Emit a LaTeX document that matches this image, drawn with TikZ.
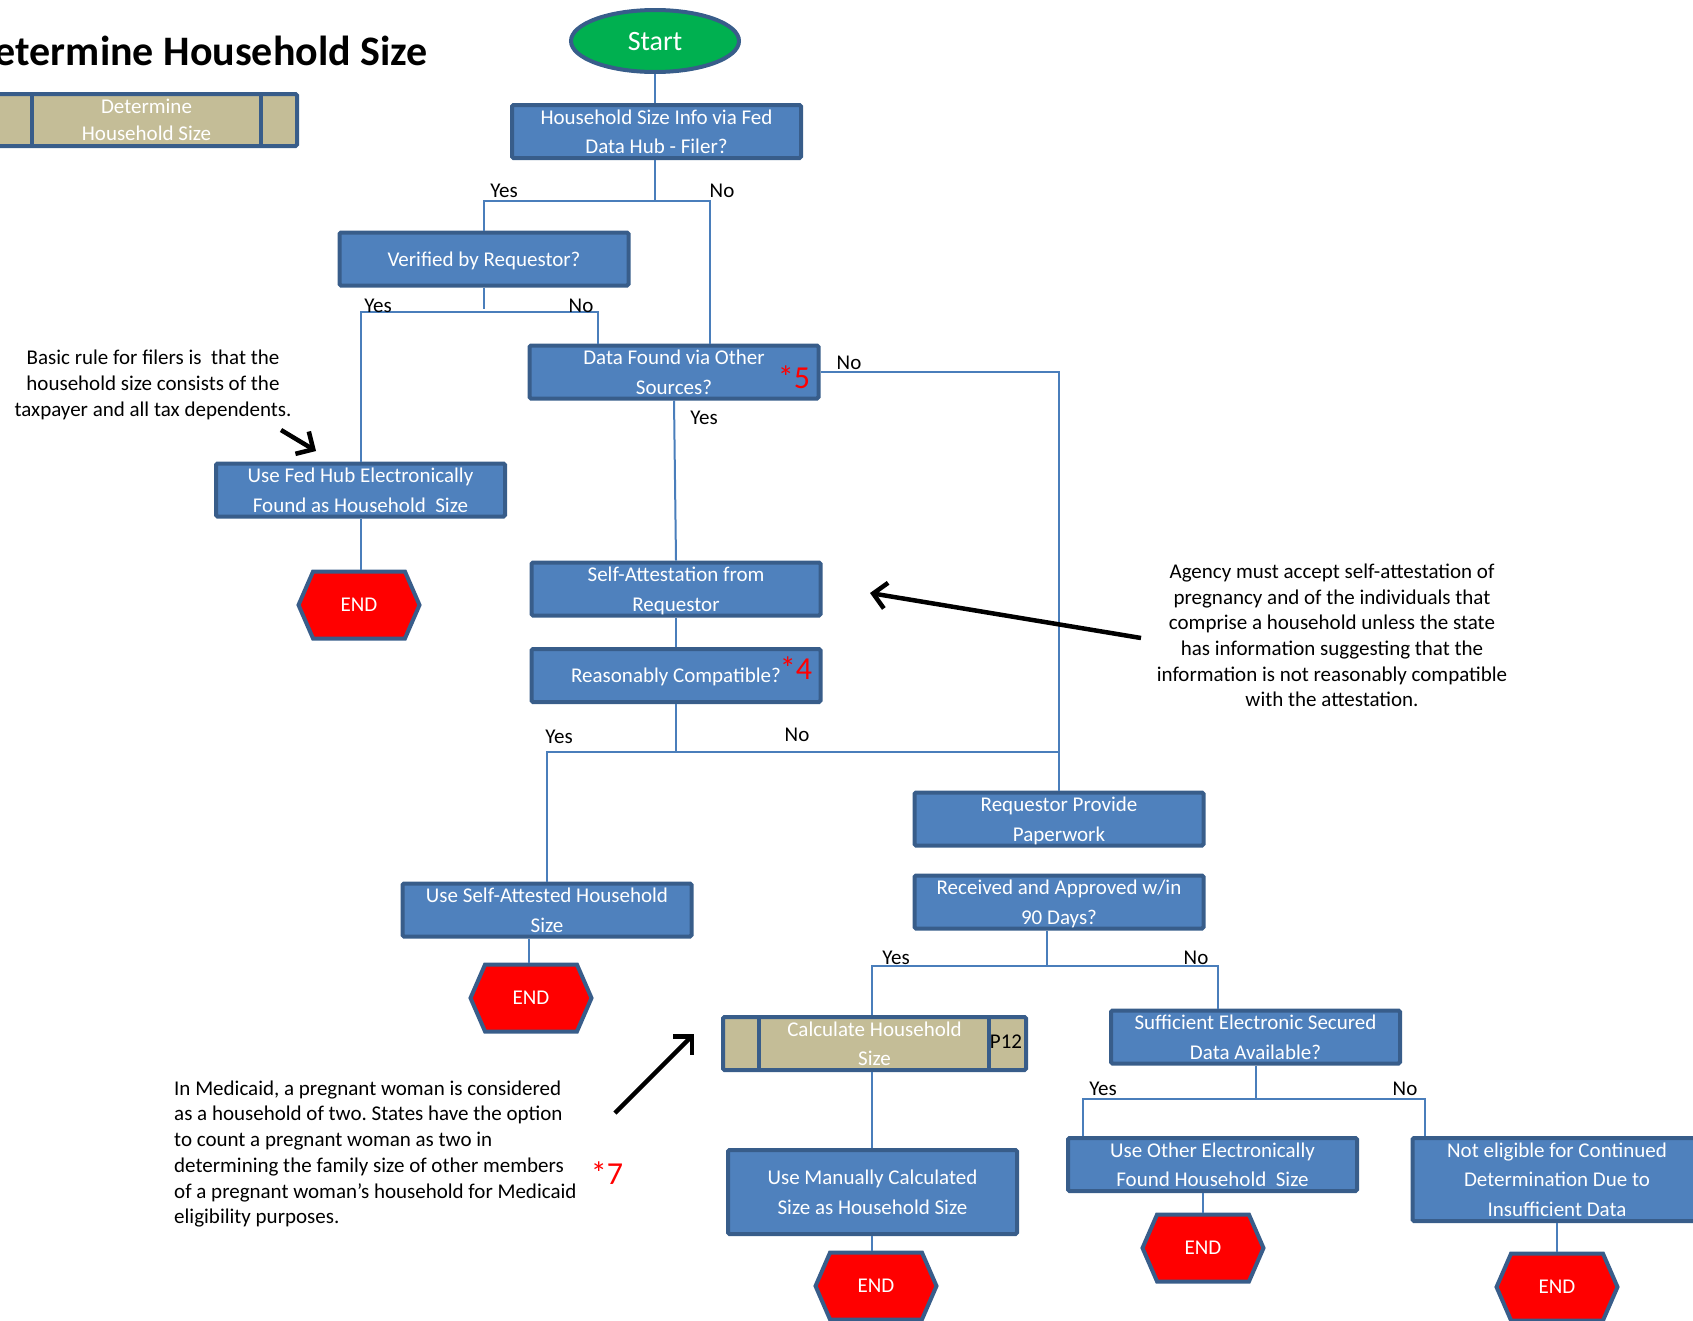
\documentclass[tikz,border=0pt]{standalone}
\usepackage{fontspec}
\setmainfont{Carlito}
\frenchspacing
\usetikzlibrary{shapes.geometric,shapes.symbols,arrows.meta,calc}
\definecolor{boxfill}{HTML}{4F81BD}
\definecolor{boxedge}{HTML}{385D8A}
\definecolor{linkblue}{HTML}{4A7EBB}
\definecolor{tanfill}{HTML}{C4BD97}
\definecolor{startgreen}{HTML}{00B050}
\definecolor{endred}{HTML}{FF0000}
\newcommand\boxtxt{\fontsize{21}{29.5}\selectfont}
\newcommand\annottxt{\fontsize{21}{25.7}\selectfont}
\tikzset{
  stepbox/.style={draw=boxedge, line width=4pt, fill=boxfill, text=white,
    align=center, font=\boxtxt, inner sep=0pt, rounded corners=1.5pt,
    minimum width=289pt, minimum height=53pt, text depth=0pt},
  tanbox/.style={stepbox, fill=tanfill},
  startnode/.style={ellipse, draw=boxedge, line width=4pt, fill=startgreen,
    text=white, font=\fontsize{28}{30}\selectfont,
    minimum width=168pt, minimum height=62pt, inner sep=0pt, text depth=0pt},
  endnode/.style={signal, signal to=west and east, signal pointer angle=133,
    draw=boxedge, line width=4pt, fill=endred, text=white, font=\boxtxt,
    minimum width=121pt, minimum height=67pt, inner sep=0pt, text depth=0pt},
  flowline/.style={draw=linkblue, line width=2pt},
  choice/.style={font=\boxtxt, text=black, inner sep=0pt},
  starnote/.style={text=red, font=\fontsize{32}{34}\selectfont, inner sep=0pt},
  annot/.style={font=\annottxt, text=black, inner sep=0pt},
  notearrow/.style={draw=black, line width=4.5pt,
    -{Straight Barb[length=13pt,width=26pt]}},
  divider/.style={draw=boxedge, line width=4pt},
}
\begin{document}
\begin{tikzpicture}[x=1pt, y=-1pt]
\useasboundingbox (0,0) rectangle (1693,1320);
\clip (0,0) rectangle (1693,1320);

% heading and sub-process marker
\node[anchor=base east, font=\fontsize{42}{44}\selectfont\bfseries, inner sep=0pt]
  (title) at (428,65) {Determine Household Size};
\node[tanbox, minimum width=301pt, minimum height=52pt] (sub) at (146.5,120)
  {Determine\\[-3pt]Household Size};
\draw[divider] ([xshift=38pt]sub.north west) -- ([xshift=38pt]sub.south west);
\draw[divider] ([xshift=-38pt]sub.north east) -- ([xshift=-38pt]sub.south east);

% flow steps
\node[startnode] (st) at (655,41) {Start};
\node[stepbox] (b1) at (656.5,131.5) {Household Size Info via Fed\\Data Hub - Filer?};
\node[stepbox] (b2) at (484,259) {Verified by Requestor?};
\node[stepbox] (b3) at (674,372) {Data Found via Other\\Sources?};
\node[stepbox] (b4) at (360.5,490) {Use Fed Hub Electronically\\Found as Household\ \ Size};
\node[stepbox] (b5) at (676,589) {Self-Attestation from\\Requestor};
\node[stepbox] (b6) at (676,675.5) {Reasonably Compatible?};
\node[stepbox] (b7) at (547,910) {Use Self-Attested Household\\Size};
\node[stepbox] (b8) at (1059,819) {Requestor Provide\\Paperwork};
\node[stepbox] (b9) at (1059,902) {Received and Approved w/in\\90 Days?};
\node[tanbox, minimum width=303pt] (b10) at (874.5,1043.5) {Calculate Household\\Size};
\draw[divider] ([xshift=38pt]b10.north west) -- ([xshift=38pt]b10.south west);
\draw[divider] ([xshift=-39pt]b10.north east) -- ([xshift=-39pt]b10.south east);
\node[choice] (p12) at (1006,1042) {P12};
\node[stepbox] (b11) at (1255.5,1037) {Sufficient Electronic Secured\\Data Available?};
\node[stepbox, minimum height=84pt] (b12) at (872.5,1192) {Use Manually Calculated\\Size as Household Size};
\node[stepbox] (b13) at (1212.5,1164.5) {Use Other Electronically\\Found Household\ \ Size};
\node[stepbox, minimum height=83pt] (b14) at (1557,1179.5) {Not eligible for Continued\\Determination Due to\\Insufficient Data};

% terminators
\node[endnode] (e1) at (359,605) {END};
\node[endnode] (e5) at (531,998) {END};
\node[endnode] (e2) at (876,1286) {END};
\node[endnode] (e3) at (1203,1248) {END};
\node[endnode] (e4) at (1557,1287) {END};

% footnote markers
\node[starnote] (s5) at (794,377) {*5};
\node[starnote] (s4) at (796,668) {*4};
\node[starnote] (s7) at (607,1173) {*7};

% connectors
\coordinate (j1) at (655,201);
\coordinate (j2) at (484,312);
\coordinate (j6) at (676,752);
\coordinate (j9) at (1047,966);
\coordinate (j11) at (1255.5,1099);
\draw[flowline] (st.south) -- (st.south |- b1.north);
\draw[flowline] (b1.south -| j1) -- (j1);
\draw[flowline] (j1) -| (b2.north);
\draw[flowline] (j1) -| ([xshift=36pt]b3.north);
\draw[flowline] (b2.south) -- ([yshift=3pt]j2);
\draw[flowline] (j2) -| (b4.north);
\draw[flowline] (j2) -| ([xshift=-76pt]b3.north);
\draw[flowline] (b3.east) -| (b8.north);
\draw[flowline] (b3.south) -- (b5.north);
\draw[flowline] (b5.south) -- (b6.north);
\draw[flowline] (b6.south) -- (j6);
\draw[flowline] (j6) -| (b7.north);
\draw[flowline] (j6) -- (j6 -| b8.north);
\draw[flowline] (b4.south) -- (b4.south |- e1.north);
\draw[flowline] ([xshift=-2pt]e5.north) -- ([xshift=-2pt]e5.north |- b7.south);
\draw[flowline] ([xshift=-12pt]b9.south) -- (j9);
\draw[flowline] (j9) -| ([xshift=-3pt]b10.north);
\draw[flowline] (j9) -| ([xshift=-38pt]b11.north);
\draw[flowline] ([xshift=-2.5pt]b10.south) -- ([xshift=-2.5pt]b10.south |- b12.north);
\draw[flowline] (b11.south) -- (j11);
\draw[flowline] (j11) -| ([xshift=-130pt]b13.north);
\draw[flowline] (j11) -| ([xshift=-132pt]b14.north);
\draw[flowline] ([xshift=-4pt]e2.north) -- ([xshift=-4pt]e2.north |- b12.south);
\draw[flowline] (e3.north) -- (e3.north |- b13.south);
\draw[flowline] (b14.south) -- (e4.north);

% branch labels
\node[choice] (y1) at (504,191) {Yes};
\node[choice] (n1) at (722,191) {No};
\node[choice] (y2) at (378,306) {Yes};
\node[choice] (n2) at (581,306) {No};
\node[choice] (n3) at (849,363) {No};
\node[choice] (y3) at (704,418) {Yes};
\node[choice] (y6) at (559,737) {Yes};
\node[choice] (n6) at (797,735) {No};
\node[choice] (y9) at (896,958) {Yes};
\node[choice] (n9) at (1196,958) {No};
\node[choice] (y11) at (1103,1089) {Yes};
\node[choice] (n11) at (1405,1089) {No};

% side notes
\node[annot, align=center] (rule) at (153,385)
  {Basic rule for filers is\ \ that the\\household size consists of the\\taxpayer and all tax dependents.};
\node[annot, align=center] (agency) at (1332,635.5)
  {Agency must accept self-attestation of\\pregnancy and of the individuals that\\comprise a household unless the state\\has information suggesting that the\\information is not reasonably compatible\\with the attestation.};
\node[annot, align=left, anchor=west] (medicaid) at (174,1154)
  {In Medicaid, a pregnant woman is considered\\as a household of two. States have the option\\to count a pregnant woman as two in\\determining the family size of other members\\of a pregnant woman’s household for Medicaid\\eligibility purposes.};

\coordinate (a1s) at (281,430); \coordinate (a1e) at (316,451);
\coordinate (a2s) at (1141,638); \coordinate (a2e) at (870,593);
\coordinate (a3s) at (615,1113); \coordinate (a3e) at (694,1034);
\draw[notearrow] (a1s) -- (a1e);
\draw[notearrow] (a2s) -- (a2e);
\draw[notearrow] (a3s) -- (a3e);
\end{tikzpicture}
\end{document}
